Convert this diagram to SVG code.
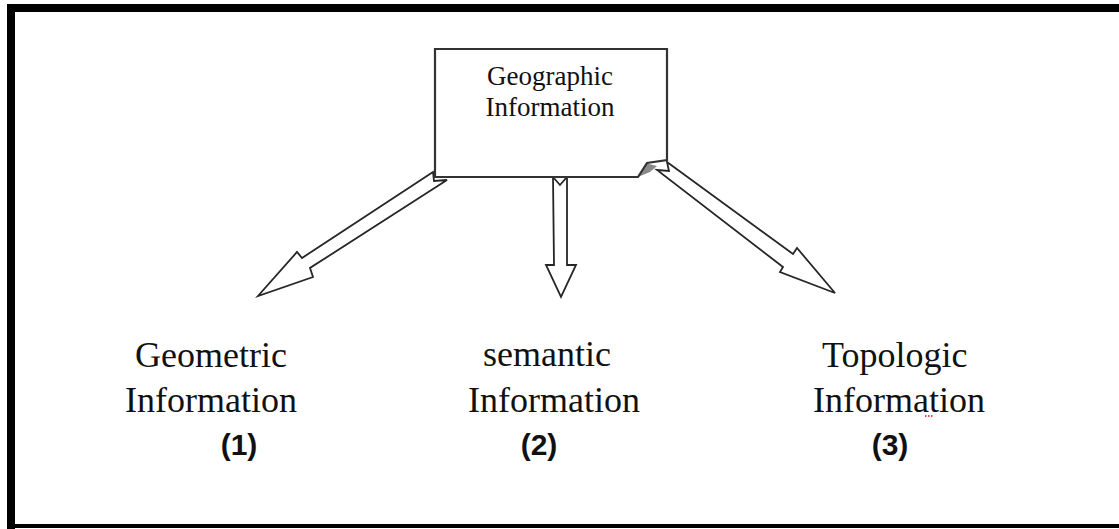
<svg xmlns="http://www.w3.org/2000/svg" width="1119" height="529" viewBox="0 0 1119 529">
  <style>
    .frame { fill: #000; }
    .box { fill: #fff; stroke: #333; stroke-width: 2.2; stroke-linejoin: miter; }
    .arrow { fill: #fff; stroke: #262626; stroke-width: 1.8; stroke-linejoin: miter; }
    .shade { fill: #8a8a8a; }
    .boxtext { font-family: "Liberation Serif", "Times New Roman", serif; font-size: 27px; fill: #111; text-anchor: middle; }
    .label { font-family: "Liberation Serif", "Times New Roman", serif; font-size: 36px; fill: #111; }
    .num { font-family: "Liberation Sans", Arial, sans-serif; font-size: 30px; font-weight: bold; fill: #111; text-anchor: middle; }
    .squiggle { stroke: #d01010; stroke-width: 1.5; stroke-dasharray: 1.5 1.5; fill: none; }
  </style>

  <rect width="1119" height="529" fill="#fff"/>

  <!-- page frame -->
  <g id="frame">
    <rect class="frame" x="7" y="4" width="1112" height="8"/>
    <rect class="frame" x="7" y="4" width="8" height="525"/>
    <rect class="frame" x="7" y="524" width="1112" height="4"/>
  </g>

  <!-- connectors: notched block arrows leaving the top box -->
  <g id="connectors">
    <polygon class="arrow" points="433,172 302,258 297,252 258,296 313,277 310,268 447,180 434,181"/>
    <polygon class="arrow" points="553,177 560,185 567,177 567,265 576,265 561,297 546,265 554,265"/>
    <polygon class="arrow" points="667,162 793,254 797,248 835,293 780,272 783,267 657,170 669,171"/>
    <polygon class="shade" points="638,177 645,163 657,166 650,172"/>
    <polygon class="shade" points="436,170 447,177 438,178"/>
  </g>

  <!-- top node -->
  <g id="node-geographic">
    <path class="box" d="M435,49 H667 V160 L647,163 L638,177 H435 Z"/>
    <text class="boxtext" x="550" y="85">Geographic</text>
    <text class="boxtext" x="550" y="116">Information</text>
  </g>

  <g id="node-geometric">
    <text class="label" x="135" y="367">Geometric</text>
    <text class="label" x="125" y="412">Information</text>
    <text class="num" x="239" y="455">(1)</text>
  </g>

  <g id="node-semantic">
    <text class="label" x="483" y="366">semantic</text>
    <text class="label" x="468" y="412">Information</text>
    <text class="num" x="539" y="455">(2)</text>
  </g>

  <g id="node-topologic">
    <text class="label" x="822" y="367">Topologic</text>
    <text class="label" x="813" y="412">Information</text>
    <line class="squiggle" x1="925" y1="416" x2="933" y2="416"/>
    <text class="num" x="890" y="455">(3)</text>
  </g>
</svg>
